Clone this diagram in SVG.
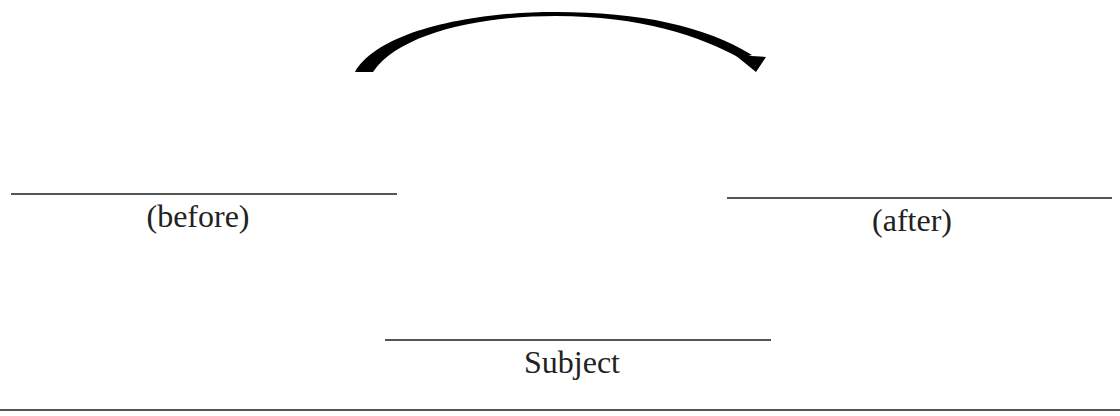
<svg xmlns="http://www.w3.org/2000/svg" width="1120" height="416" viewBox="0 0 1120 416">
  <style>
    .rule { stroke: #555; stroke-width: 2; fill: none; }
    .label { font-family: "Liberation Serif", "Times New Roman", serif; font-size: 32px; fill: #222; text-anchor: middle; }
  </style>
  <rect width="1120" height="416" fill="#fff"/>

  <g id="connectors">
    <!-- tapered curved arrow from the "before" slot to the "after" slot -->
    <path d="M355,72 C378,32 468,12 556,12 C640,12 705,26 752,55 L740,58 C700,36 640,16 556,16 C480,16 400,33 373,72 Z" fill="#000"/>
    <polygon points="735,55 766,57 756,72" fill="#000"/>
  </g>

  <g id="before">
    <line class="rule" x1="11" y1="194" x2="397" y2="194"/>
    <text class="label" x="198" y="227">(before)</text>
  </g>

  <g id="after">
    <line class="rule" x1="727" y1="198" x2="1112" y2="198"/>
    <text class="label" x="912" y="231">(after)</text>
  </g>

  <g id="subject">
    <line class="rule" x1="385" y1="340" x2="771" y2="340"/>
    <text class="label" x="572" y="373">Subject</text>
  </g>

  <g id="baseline">
    <line class="rule" x1="0" y1="410" x2="1120" y2="410"/>
  </g>
</svg>
